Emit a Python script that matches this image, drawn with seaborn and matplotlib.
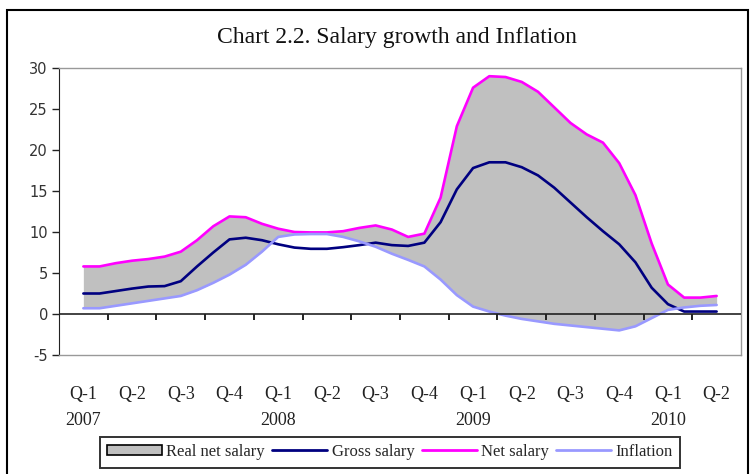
import numpy as np
import pandas as pd
import seaborn as sns
from matplotlib import pyplot as plt
from matplotlib.patches import Rectangle, Patch
from matplotlib.lines import Line2D

# monthly readings, Jan 2007 .. Apr 2010 (placed at quarter centres, 3 per quarter)
net_salary = [5.8, 5.8, 6.2, 6.5, 6.7, 7.0, 7.6, 9.0, 10.7, 11.9,
              11.8, 11.0, 10.4, 10.0, 9.95, 9.95, 10.1, 10.5, 10.8, 10.3,
              9.4, 9.8, 14.2, 22.9, 27.6, 29.0, 28.9, 28.3, 27.1, 25.2,
              23.3, 21.9, 20.9, 18.4, 14.5, 8.6, 3.6, 2.0, 2.0, 2.2]
gross_salary = [2.5, 2.5, 2.8, 3.1, 3.35, 3.4, 4.0, 5.8, 7.5, 9.1,
                9.3, 9.0, 8.5, 8.1, 7.95, 7.95, 8.15, 8.4, 8.7, 8.4,
                8.3, 8.7, 11.2, 15.2, 17.8, 18.5, 18.5, 17.9, 16.9, 15.4,
                13.6, 11.8, 10.1, 8.5, 6.3, 3.2, 1.2, 0.3, 0.3, 0.3]
inflation = [0.7, 0.7, 1.0, 1.3, 1.6, 1.9, 2.2, 2.9, 3.8, 4.8,
             6.0, 7.6, 9.4, 9.7, 9.75, 9.75, 9.4, 8.85, 8.2, 7.35,
             6.6, 5.8, 4.2, 2.3, 0.9, 0.3, -0.2, -0.6, -0.9, -1.2,
             -1.4, -1.6, -1.8, -2.0, -1.5, -0.5, 0.5, 0.8, 1.0, 1.1]

quarters = ['Q-1', 'Q-2', 'Q-3', 'Q-4'] * 3 + ['Q-1', 'Q-2']
years = ['2007', '', '', '', '2008', '', '', '', '2009', '', '', '', '2010', '']

pos = np.arange(len(net_salary)) / 3

df = pd.DataFrame({'pos': pos, 'Gross salary': gross_salary,
                   'Net salary': net_salary, 'Inflation': inflation})
long_df = df.melt(id_vars='pos', var_name='series', value_name='value')

colors = {'Gross salary': '#000080', 'Net salary': '#FF00FF', 'Inflation': '#9999FF'}

sns.set_style('white', {'xtick.bottom': True, 'ytick.left': True})
plt.rcParams['font.family'] = ['Liberation Serif', 'DejaVu Serif']
plt.rcParams['axes.unicode_minus'] = False

fig = plt.figure(figsize=(7.53, 4.74), dpi=100)
ax = fig.add_axes([59 / 753, 1 - 355 / 474, (741 - 59) / 753, (355 - 68) / 474])

ax.fill_between(df['pos'], df['Net salary'], df['Inflation'], color='#C0C0C0', lw=0)
sns.lineplot(data=long_df, x='pos', y='value', hue='series', palette=colors,
             linewidth=1.9, legend=False, ax=ax)

ax.set_xlim(-0.5, len(quarters) - 0.5)
ax.set_ylim(-5, 30)
ax.set_yticks(range(-5, 31, 5))
ax.set_xlabel('')
ax.set_ylabel('')

# category labels below plot area
labels = [q + ('\n' + y if y else '') for q, y in zip(quarters, years)]
ax.set_xticks(range(len(quarters)))
ax.set_xticklabels(labels)
ax.tick_params(axis='x', which='major', bottom=True, length=0, pad=22)
ax.tick_params(axis='y', left=True, length=5, direction='out', width=1,
               color='#222222', pad=3)

# zero line with category boundary marks, like an Excel category axis
ax.axhline(0, color='#222222', lw=1.2, zorder=3)
boundaries = np.arange(0.5, len(quarters) - 0.5, 1)
ax.vlines(boundaries, -0.7, 0, color='#222222', lw=1.4, zorder=4)

for t in ax.get_xticklabels():
    t.set_fontsize(13)
    t.set_linespacing(1.75)
    t.set_color('#222222')
for t in ax.get_yticklabels():
    t.set_family('DejaVu Sans')
    t.set_fontsize(10.5)
    t.set_color('#333333')

ax.spines['left'].set_color('#222222')
for s in ['top', 'right', 'bottom']:
    ax.spines[s].set_color('#999999')
    ax.spines[s].set_linewidth(1)

fig.text(397 / 753, 1 - 37 / 474, 'Chart 2.2. Salary growth and Inflation',
         ha='center', va='center', fontsize=17, color='#111111')

handles = [Patch(facecolor='#C0C0C0', edgecolor='black', lw=1.2, label='Real net salary'),
           Line2D([], [], color=colors['Gross salary'], lw=2, label='Gross salary'),
           Line2D([], [], color=colors['Net salary'], lw=2, label='Net salary'),
           Line2D([], [], color=colors['Inflation'], lw=2, label='Inflation')]
leg = fig.legend(handles=handles, ncol=4, loc='center',
                 bbox_to_anchor=(390 / 753, 1 - 452 / 474), fontsize=12,
                 frameon=True, fancybox=False, edgecolor='black',
                 handlelength=3.3, handleheight=0.6, handletextpad=0.25,
                 columnspacing=0.45, borderpad=0.45, borderaxespad=0)
leg.get_frame().set_linewidth(1.4)

# outer chart border
fig.patches.append(Rectangle((7 / 753, -0.05), (748 - 7) / 753, 1.05 - 10 / 474,
                             transform=fig.transFigure, fill=False,
                             edgecolor='black', lw=1.5))

fig.savefig('out.png', dpi=100)
